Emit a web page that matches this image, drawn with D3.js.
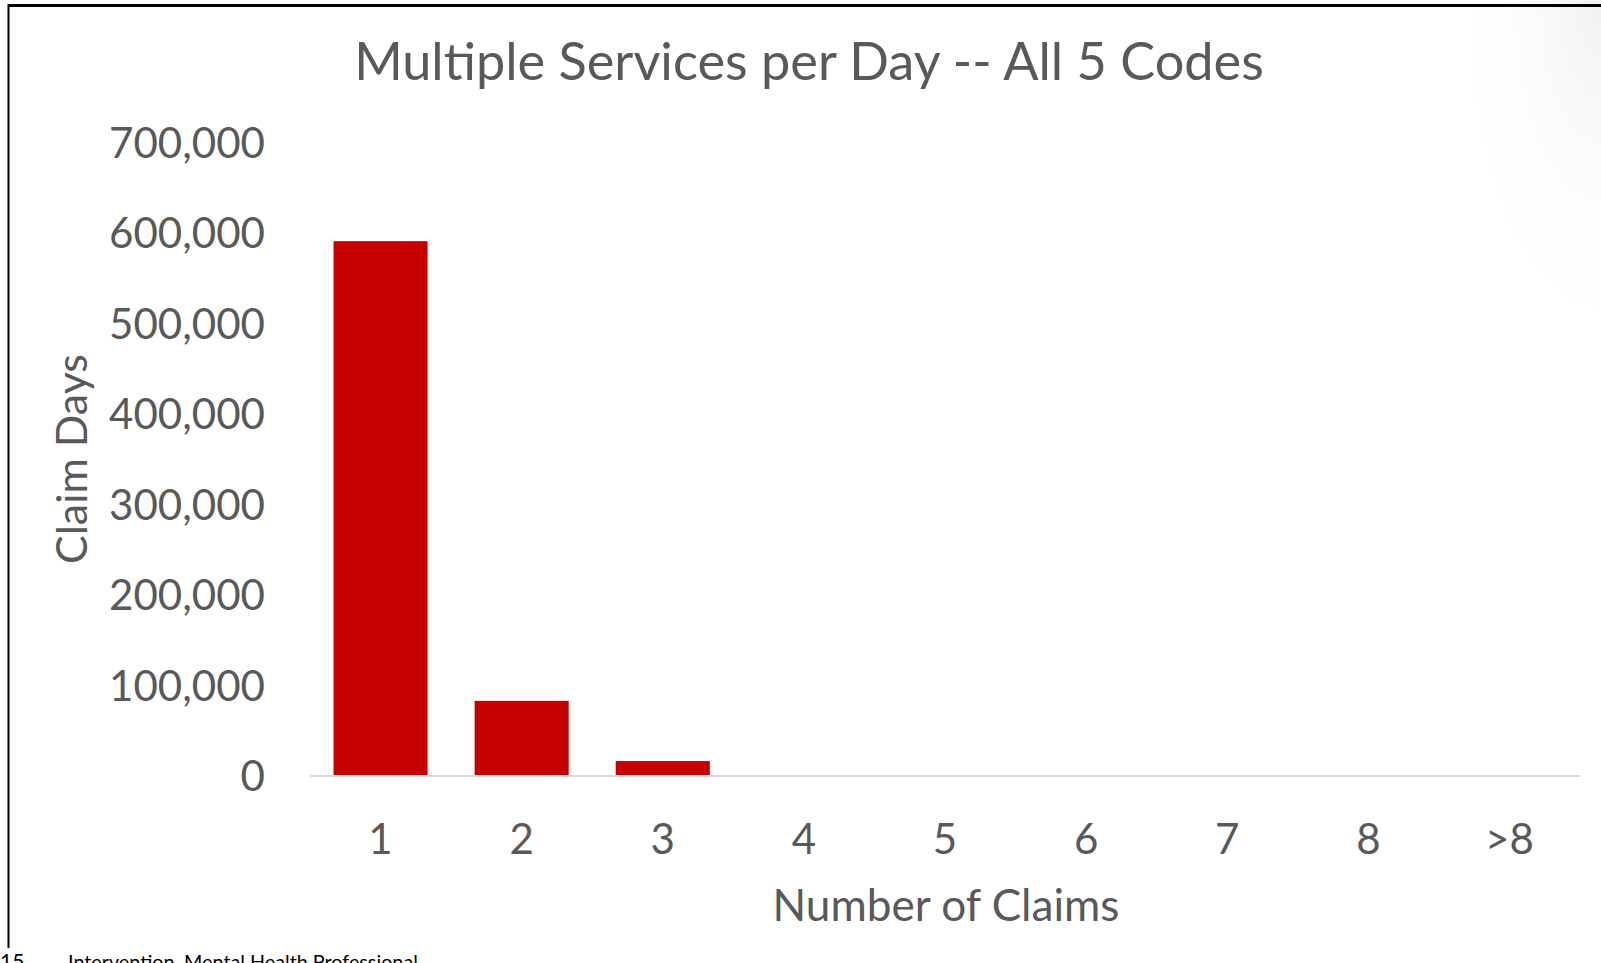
<!DOCTYPE html>
<html>
<head>
<meta charset="utf-8">
<script src="https://cdn.jsdelivr.net/npm/d3@7"></script>
<style>
  html, body { margin: 0; padding: 0; background: #fff; overflow: hidden; }
  text { font-family: Lato, "Open Sans", sans-serif; }
</style>
</head>
<body>
<div id="chart"></div>
<script>
// chart data
var categories = ["1", "2", "3", "4", "5", "6", "7", "8", ">8"];
var claimDays = [591000, 83000, 16500, 400, 90, 20, 5, 2, 3];
var yTicks = [0, 100000, 200000, 300000, 400000, 500000, 600000, 700000];

var width = 1601,
    height = 963,
    plotLeft = 310,
    plotRight = 1580,
    plotTop = 142.5,
    plotBottom = 776,
    textColor = "#595959",
    barColor = "#c60000";

var svg = d3.select("#chart")
    .append("svg")
    .attr("width", width)
    .attr("height", height);

// faint slide shadow at top right
var defs = svg.append("defs");
var grad = defs.append("radialGradient")
    .attr("id", "shade")
    .attr("cx", 1).attr("cy", 0).attr("r", 1);
grad.append("stop").attr("offset", "0%").attr("stop-color", "#f1f1f1");
grad.append("stop").attr("offset", "100%").attr("stop-color", "#ffffff").attr("stop-opacity", 0);
svg.append("rect")
    .attr("x", 1450).attr("y", 0)
    .attr("width", 151).attr("height", 350)
    .attr("fill", "url(#shade)");

// frame lines (slide border)
svg.append("line")
    .attr("x1", 8).attr("x2", width).attr("y1", 5.5).attr("y2", 5.5)
    .attr("stroke", "#000").attr("stroke-width", 3);
svg.append("line")
    .attr("x1", 8.5).attr("x2", 8.5).attr("y1", 4).attr("y2", 948)
    .attr("stroke", "#000").attr("stroke-width", 2);

var x = d3.scaleBand()
    .domain(categories)
    .range([plotLeft, plotRight])
    .paddingInner(1 / 3)
    .paddingOuter(1 / 6);

var y = d3.scaleLinear()
    .domain([0, 700000])
    .range([plotBottom, plotTop]);

// resize a text so that it fills a given width
function fit(sel, targetWidth) {
    var base = parseFloat(sel.attr("font-size"));
    var w = sel.node().getComputedTextLength();
    sel.attr("font-size", base * targetWidth / w);
    return sel;
}

// bars
svg.append("g")
    .selectAll("rect")
    .data(claimDays)
    .enter()
    .append("rect")
    .attr("x", function (d, i) { return x(categories[i]); })
    .attr("width", x.bandwidth())
    .attr("y", function (d) { return y(d); })
    .attr("height", function (d) { return plotBottom - y(d); })
    .attr("fill", barColor);

// x axis line
svg.append("line")
    .attr("x1", plotLeft).attr("x2", plotRight)
    .attr("y1", plotBottom).attr("y2", plotBottom)
    .attr("stroke", "#d9d9d9").attr("stroke-width", 2);

// y axis labels
var fmt = d3.format(",");
var yLabels = svg.append("g")
    .selectAll("text")
    .data(yTicks)
    .enter()
    .append("text")
    .attr("x", 265)
    .attr("y", function (d) { return y(d); })
    .attr("dy", "0.36em")
    .attr("text-anchor", "end")
    .attr("fill", textColor)
    .attr("font-size", 44)
    .text(function (d) { return fmt(d); });
var ySize = 44 * 156 / yLabels.filter(function (d) { return d === 700000; }).node().getComputedTextLength();
yLabels.attr("font-size", ySize);

// x axis labels
svg.append("g")
    .selectAll("text")
    .data(categories)
    .enter()
    .append("text")
    .attr("x", function (d) { return x(d) + x.bandwidth() / 2; })
    .attr("y", 854)
    .attr("text-anchor", "middle")
    .attr("fill", textColor)
    .attr("font-size", ySize)
    .text(function (d) { return d; });

// title
fit(svg.append("text")
    .attr("x", 809).attr("y", 80)
    .attr("text-anchor", "middle")
    .attr("fill", textColor)
    .attr("font-size", 46)
    .text("Multiple Services per Day -- All 5 Codes"), 910);

// axis titles
fit(svg.append("text")
    .attr("x", 946).attr("y", 921)
    .attr("text-anchor", "middle")
    .attr("fill", textColor)
    .attr("font-size", 40)
    .text("Number of Claims"), 347);

fit(svg.append("text")
    .attr("transform", "translate(87,459) rotate(-90)")
    .attr("text-anchor", "middle")
    .attr("fill", textColor)
    .attr("font-size", 40)
    .text("Claim Days"), 210);

// footer, cut at the bottom of the slide
svg.append("text")
    .attr("x", 0).attr("y", 969)
    .attr("fill", "#000")
    .attr("font-size", 21)
    .text("15");
fit(svg.append("text")
    .attr("x", 68).attr("y", 969)
    .attr("fill", "#000")
    .attr("font-size", 21)
    .text("Intervention, Mental Health Professional"), 350);
</script>
</body>
</html>
